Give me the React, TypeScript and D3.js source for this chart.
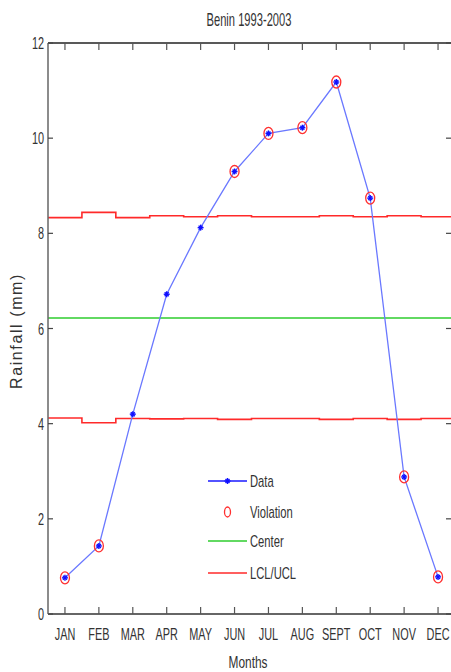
import React from "react";
import * as d3 from "d3";

// Monthly rainfall control chart, Benin 1993-2003
const months = ["JAN", "FEB", "MAR", "APR", "MAY", "JUN", "JUL", "AUG", "SEPT", "OCT", "NOV", "DEC"];
const rainfall = [0.76, 1.43, 4.2, 6.72, 8.12, 9.3, 10.1, 10.22, 11.18, 8.74, 2.88, 0.78];
const centerLine = 6.22;
const ucl = [8.33, 8.44, 8.33, 8.37, 8.35, 8.37, 8.35, 8.35, 8.37, 8.35, 8.37, 8.35];
const lcl = [4.12, 4.02, 4.11, 4.1, 4.11, 4.09, 4.11, 4.11, 4.09, 4.11, 4.09, 4.11];
const yTicks = [0, 2, 4, 6, 8, 10, 12];
const legendItems = ["Data", "Violation", "Center", "LCL/UCL"];

const W = 451;
const H = 672;
const left = 48;
const top = 43;
const bottom = 614;
const right = 455;

const FONT = "'Liberation Sans', Arial, sans-serif";

function NarrowText(props: {
  x: number;
  y: number;
  size?: number;
  sx?: number;
  anchor?: "start" | "middle" | "end";
  fill?: string;
  children: React.ReactNode;
}) {
  const { x, y, size = 17, sx = 0.64, anchor = "start", fill = "#333", children } = props;
  return (
    <text
      transform={`translate(${x},${y}) scale(${sx},1)`}
      fontFamily={FONT}
      fontSize={size}
      textAnchor={anchor}
      fill={fill}
    >
      {children}
    </text>
  );
}

export default function App() {
  const x = d3.scaleLinear().domain([0.5, 12.5]).range([left, right]);
  const y = d3.scaleLinear().domain([0, 12]).range([bottom, top]);

  const stepped = (vals: number[]) => {
    const pts = vals.map((v, i) => [i + 0.5, v] as [number, number]);
    pts.push([12.5, vals[vals.length - 1]]);
    return d3
      .line<[number, number]>()
      .x((d) => x(d[0]))
      .y((d) => y(d[1]))
      .curve(d3.curveStepAfter)(pts) as string;
  };

  const dataPath = d3
    .line<number>()
    .x((_, i) => x(i + 1))
    .y((d) => y(d))(rainfall) as string;

  const isViolation = (v: number, i: number) => v > ucl[i] || v < lcl[i];

  const marker = (cx: number, cy: number, key: string | number) => (
    <g key={key} stroke="#1010ff" strokeWidth={1.4}>
      <line x1={cx - 3} y1={cy} x2={cx + 3} y2={cy} />
      <line x1={cx} y1={cy - 3} x2={cx} y2={cy + 3} />
      <line x1={cx - 2} y1={cy - 2} x2={cx + 2} y2={cy + 2} />
      <line x1={cx - 2} y1={cy + 2} x2={cx + 2} y2={cy - 2} />
    </g>
  );

  const legX1 = 208;
  const legX2 = 247;
  const legRows = [481, 512, 541, 573];

  return (
    <svg
      width={W}
      height={H}
      style={{ position: "absolute", left: 0, top: 0, background: "#fff" }}
    >
      <rect x={0} y={0} width={W} height={H} fill="#fff" />

      {/* title */}
      <NarrowText x={249} y={26} size={18} sx={0.62} anchor="middle">
        Benin 1993-2003
      </NarrowText>

      {/* control limits */}
      <path d={stepped(ucl)} fill="none" stroke="#ff2a2a" strokeWidth={1.6} />
      <path d={stepped(lcl)} fill="none" stroke="#ff2a2a" strokeWidth={1.6} />
      <line
        x1={x(0.5)}
        x2={x(12.5)}
        y1={y(centerLine)}
        y2={y(centerLine)}
        stroke="#2ecc2e"
        strokeWidth={1.6}
      />

      {/* rainfall series */}
      <path d={dataPath} fill="none" stroke="#6a78ff" strokeWidth={1.3} />
      {rainfall.map((v, i) => marker(x(i + 1), y(v), i))}
      {rainfall.map((v, i) =>
        isViolation(v, i) ? (
          <ellipse
            key={"v" + i}
            cx={x(i + 1)}
            cy={y(v)}
            rx={4.5}
            ry={6}
            fill="none"
            stroke="#ff3030"
            strokeWidth={1.3}
          />
        ) : null
      )}

      {/* axes frame */}
      <line x1={left} x2={W} y1={top} y2={top} stroke="#222" strokeWidth={1.5} />
      <line x1={left} x2={W} y1={bottom} y2={bottom} stroke="#333" strokeWidth={1.5} />
      <line x1={left} x2={left} y1={top} y2={bottom} stroke="#666" strokeWidth={1.5} />

      {/* month ticks and labels */}
      {months.map((m, i) => (
        <g key={m}>
          <line x1={x(i + 1)} x2={x(i + 1)} y1={top} y2={top + 7} stroke="#555" strokeWidth={1.2} />
          <line x1={x(i + 1)} x2={x(i + 1)} y1={bottom} y2={bottom - 7} stroke="#555" strokeWidth={1.2} />
          <NarrowText x={x(i + 1)} y={640} anchor="middle">
            {m}
          </NarrowText>
        </g>
      ))}

      {/* value ticks and labels */}
      {yTicks.map((t) => (
        <g key={t}>
          <line x1={left} x2={left + 5} y1={y(t)} y2={y(t)} stroke="#444" strokeWidth={1.2} />
          <line x1={W - 5} x2={W} y1={y(t)} y2={y(t)} stroke="#444" strokeWidth={1.2} />
          <NarrowText x={44} y={y(t) + 6} anchor="end">
            {t}
          </NarrowText>
        </g>
      ))}

      {/* axis titles */}
      <NarrowText x={248} y={668} sx={0.7} anchor="middle">
        Months
      </NarrowText>
      <text
        transform={`translate(22,331) rotate(-90)`}
        fontFamily={FONT}
        fontSize={16}
        letterSpacing={1.6}
        textAnchor="middle"
        fill="#333"
      >
        Rainfall (mm)
      </text>

      {/* legend */}
      <g>
        <line x1={legX1} x2={legX2} y1={legRows[0]} y2={legRows[0]} stroke="#1a1aff" strokeWidth={1.3} />
        {marker((legX1 + legX2) / 2, legRows[0], "leg")}
        <ellipse
          cx={(legX1 + legX2) / 2}
          cy={legRows[1]}
          rx={3}
          ry={5}
          fill="none"
          stroke="#ff3030"
          strokeWidth={1.3}
        />
        <line x1={legX1} x2={legX2} y1={legRows[2]} y2={legRows[2]} stroke="#2ecc2e" strokeWidth={1.3} />
        <line x1={legX1} x2={legX2} y1={legRows[3]} y2={legRows[3]} stroke="#ff2a2a" strokeWidth={1.3} />
        {legendItems.map((label, i) => (
          <NarrowText key={label} x={250} y={legRows[i] + 6} sx={0.66}>
            {label}
          </NarrowText>
        ))}
      </g>
    </svg>
  );
}
